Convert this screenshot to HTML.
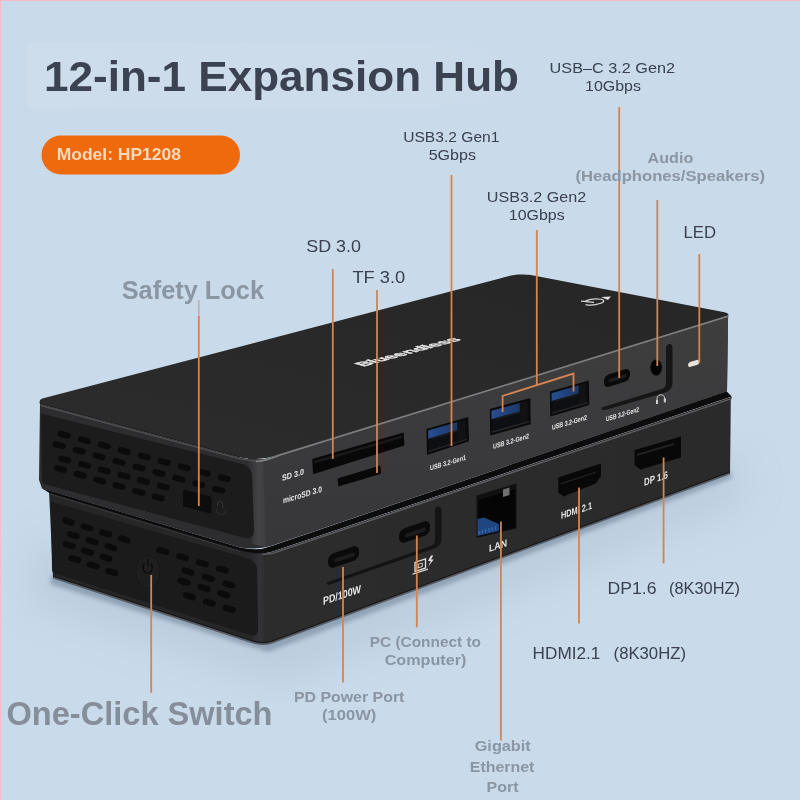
<!DOCTYPE html><html><head><meta charset="utf-8"><style>html,body{margin:0;padding:0;background:#c9daea;overflow:hidden;}svg{display:block;will-change:transform;}text{font-family:"Liberation Sans", sans-serif;}</style></head><body>
<svg width="800" height="800" viewBox="0 0 800 800">
<defs>
<linearGradient id="topg" x1="0" y1="1" x2="1" y2="0"><stop offset="0" stop-color="#2c2c2c"/><stop offset="1" stop-color="#262626"/></linearGradient>
<linearGradient id="ufront" x1="0" y1="0" x2="0" y2="1"><stop offset="0" stop-color="#3e3e3f"/><stop offset="1" stop-color="#37373a"/></linearGradient>
<linearGradient id="lfront" x1="0" y1="0" x2="1" y2="0"><stop offset="0" stop-color="#2c2c2d"/><stop offset="1" stop-color="#2a2a2b"/></linearGradient>
<linearGradient id="ucorner" x1="0" y1="0" x2="1" y2="0"><stop offset="0" stop-color="#2e2e30"/><stop offset="0.6" stop-color="#444446"/><stop offset="1" stop-color="#3d3d3f"/></linearGradient>
<linearGradient id="lcorner" x1="0" y1="0" x2="1" y2="0"><stop offset="0" stop-color="#262628"/><stop offset="0.6" stop-color="#333335"/><stop offset="1" stop-color="#2c2c2d"/></linearGradient>
<filter id="b2"><feGaussianBlur stdDeviation="2"/></filter>
<filter id="b8"><feGaussianBlur stdDeviation="8"/></filter>
<filter id="b20"><feGaussianBlur stdDeviation="20"/></filter>
</defs>
<rect x="0" y="0" width="800" height="800" fill="#c9daea"/>
<linearGradient id="glow" x1="0" y1="0" x2="1" y2="0"><stop offset="0" stop-color="#d2dfed" stop-opacity="0.55"/><stop offset="0.6" stop-color="#d2dfed" stop-opacity="0.35"/><stop offset="1" stop-color="#d2dfed" stop-opacity="0"/></linearGradient>
<rect x="27" y="42.5" width="520" height="66" rx="8" fill="url(#glow)"/>
<polygon points="40,540 268,630 735,450 745,500 280,680 30,600" fill="#9fb1c4" opacity="0.35" filter="url(#b20)"/>
<polygon points="52,574 262,640 730,470 732,478 268,652 50,584" fill="#7d8fa3" opacity="0.7" filter="url(#b2)"/>
<rect x="0" y="0" width="800" height="1" fill="#ffbac4"/><rect x="0" y="0" width="1" height="800" fill="#ffbac4"/>
<text x="44" y="91" font-size="43" fill="#3b4252" font-weight="bold" textLength="475" lengthAdjust="spacingAndGlyphs" >12-in-1 Expansion Hub</text>
<rect x="41.5" y="135.5" width="198.5" height="39" rx="19.5" fill="#ee6a0c"/>
<text x="56.7" y="160" font-size="16.5" fill="#fbd9bd" font-weight="bold" textLength="124.3" lengthAdjust="spacingAndGlyphs" >Model: HP1208</text>
<path d="M 49,491 L 240,549 Q 258,556 272,552.3 L 731.75,397 L 730.5,400 L 730,472.75 L 272,642 Q 262,645.5 250,641 L 53,577 Z" fill="#262627" />
<path d="M 262,553.5 Q 266,553.3 272,552.3 L 731.75,397 L 730.5,400 L 730,472.75 L 272,642 Q 266,643.5 262,643.2 Z" fill="url(#lfront)" />
<polygon points="250.00,549.50 264.00,553.30 266.00,643.00 252.00,640.00" fill="url(#lcorner)" />
<path d="M 51,501.5 L 246,558 Q 256,561 257,568 L 258,629 Q 258,637 250,635 L 54,573 Q 52,572 52,570 Z" fill="#1b1b1c" />
<path d="M 50,494 L 240,551.5" stroke="#3a3a3c" stroke-width="1" fill="none"/>
<path d="M 262,554.3 Q 266,554.3 272,553.6 L 731.5,398.6" stroke="#5e5e60" stroke-width="1.5" fill="none"/>
<path d="M 53,577.5 L 250,641.5 Q 262,646 272,642.5 L 730,473.2" stroke="#4a4e55" stroke-width="2" fill="none" opacity="0.8"/>
<path d="M 53,576 L 250,640 Q 262,644.5 272,641 L 730,471.8" stroke="#161616" stroke-width="1" fill="none"/>
<path d="M 41.5,488 L 240,547.5 Q 258,551.5 270,546.5 L 726.5,391.3 L 731.75,396.5 L 272,551.8 Q 258,555.5 240,550.5 L 49,492.7 Z" fill="#0c0c0c" />
<path d="M 40,404 L 240,457.5 Q 262,463 280,454 L 728.2,315.6 L 728,320 L 727,391.3 L 270,546 Q 258,550 240,547.5 L 42,488.6 L 39,480 Z" fill="#2d2d2f" />
<path d="M 262,460 Q 270,458 280,454 L 728.2,315.6 L 728,320 L 727,391.3 L 270,546 Q 266,547 262,546.8 Z" fill="url(#ufront)" />
<polygon points="248.00,456.00 263.00,460.00 266.00,546.80 252.00,544.00" fill="url(#ucorner)" />
<path d="M 41,413.5 L 240,463.5 Q 251,466 252,474 L 254,530 Q 254,540 245,538 L 44,484 Q 42,483 42,480 Z" fill="#1c1c1d" />
<path d="M 40,404 Q 38.3,400 42.4,398.6 L 497,279.2 C 508,276.3 513,274.4 521,274.4 C 529,274.4 533,275.3 540,276.7 L 724.5,312.3 Q 729.5,313.6 728.2,315.6 L 280,454 Q 262,461.5 240,457.5 Z" fill="url(#topg)" />
<path d="M 41,405.5 L 240,458.8 Q 256,462.5 266,460" stroke="#4e4e50" stroke-width="1.3" fill="none"/>
<path d="M 256,461.5 Q 266,461 280,455 L 728,316.3" stroke="#808082" stroke-width="1.5" fill="none"/>
<path d="M 40,403.5 L 240,457" stroke="#1a1a1a" stroke-width="0.8" fill="none"/>
<rect x="-6.60" y="-3.00" width="13.20" height="6.00" rx="3.00" fill="#0b0b0b" transform="translate(64.20,434.75) rotate(15.22)" />
<rect x="-6.60" y="-3.00" width="13.20" height="6.00" rx="3.00" fill="#0b0b0b" transform="translate(84.21,440.18) rotate(15.22)" />
<rect x="-6.60" y="-3.00" width="13.20" height="6.00" rx="3.00" fill="#0b0b0b" transform="translate(104.23,445.61) rotate(15.22)" />
<rect x="-6.60" y="-3.00" width="13.20" height="6.00" rx="3.00" fill="#0b0b0b" transform="translate(124.24,451.04) rotate(15.22)" />
<rect x="-6.60" y="-3.00" width="13.20" height="6.00" rx="3.00" fill="#0b0b0b" transform="translate(144.25,456.48) rotate(15.22)" />
<rect x="-6.60" y="-3.00" width="13.20" height="6.00" rx="3.00" fill="#0b0b0b" transform="translate(164.26,461.91) rotate(15.22)" />
<rect x="-6.60" y="-3.00" width="13.20" height="6.00" rx="3.00" fill="#0b0b0b" transform="translate(184.28,467.34) rotate(15.22)" />
<rect x="-6.60" y="-3.00" width="13.20" height="6.00" rx="3.00" fill="#0b0b0b" transform="translate(204.29,472.77) rotate(15.22)" />
<rect x="-6.60" y="-3.00" width="13.20" height="6.00" rx="3.00" fill="#0b0b0b" transform="translate(224.30,478.20) rotate(15.22)" />
<rect x="-6.60" y="-3.00" width="13.20" height="6.00" rx="3.00" fill="#0b0b0b" transform="translate(59.25,445.20) rotate(15.22)" />
<rect x="-6.60" y="-3.00" width="13.20" height="6.00" rx="3.00" fill="#0b0b0b" transform="translate(79.19,450.77) rotate(15.22)" />
<rect x="-6.60" y="-3.00" width="13.20" height="6.00" rx="3.00" fill="#0b0b0b" transform="translate(99.12,456.34) rotate(15.22)" />
<rect x="-6.60" y="-3.00" width="13.20" height="6.00" rx="3.00" fill="#0b0b0b" transform="translate(119.06,461.91) rotate(15.22)" />
<rect x="-6.60" y="-3.00" width="13.20" height="6.00" rx="3.00" fill="#0b0b0b" transform="translate(139.00,467.48) rotate(15.22)" />
<rect x="-6.60" y="-3.00" width="13.20" height="6.00" rx="3.00" fill="#0b0b0b" transform="translate(158.94,473.04) rotate(15.22)" />
<rect x="-6.60" y="-3.00" width="13.20" height="6.00" rx="3.00" fill="#0b0b0b" transform="translate(178.88,478.61) rotate(15.22)" />
<rect x="-6.60" y="-3.00" width="13.20" height="6.00" rx="3.00" fill="#0b0b0b" transform="translate(198.81,484.18) rotate(15.22)" />
<rect x="-6.60" y="-3.00" width="13.20" height="6.00" rx="3.00" fill="#0b0b0b" transform="translate(218.75,489.75) rotate(15.22)" />
<rect x="-6.60" y="-3.00" width="13.20" height="6.00" rx="3.00" fill="#0b0b0b" transform="translate(64.75,459.50) rotate(15.22)" />
<rect x="-6.60" y="-3.00" width="13.20" height="6.00" rx="3.00" fill="#0b0b0b" transform="translate(84.44,464.90) rotate(15.22)" />
<rect x="-6.60" y="-3.00" width="13.20" height="6.00" rx="3.00" fill="#0b0b0b" transform="translate(104.13,470.30) rotate(15.22)" />
<rect x="-6.60" y="-3.00" width="13.20" height="6.00" rx="3.00" fill="#0b0b0b" transform="translate(123.82,475.70) rotate(15.22)" />
<rect x="-6.60" y="-3.00" width="13.20" height="6.00" rx="3.00" fill="#0b0b0b" transform="translate(143.51,481.10) rotate(15.22)" />
<rect x="-6.60" y="-3.00" width="13.20" height="6.00" rx="3.00" fill="#0b0b0b" transform="translate(163.20,486.50) rotate(15.22)" />
<rect x="-6.60" y="-3.00" width="13.20" height="6.00" rx="3.00" fill="#0b0b0b" transform="translate(60.60,469.00) rotate(15.22)" />
<rect x="-6.60" y="-3.00" width="13.20" height="6.00" rx="3.00" fill="#0b0b0b" transform="translate(80.14,474.70) rotate(15.22)" />
<rect x="-6.60" y="-3.00" width="13.20" height="6.00" rx="3.00" fill="#0b0b0b" transform="translate(99.68,480.40) rotate(15.22)" />
<rect x="-6.60" y="-3.00" width="13.20" height="6.00" rx="3.00" fill="#0b0b0b" transform="translate(119.22,486.10) rotate(15.22)" />
<rect x="-6.60" y="-3.00" width="13.20" height="6.00" rx="3.00" fill="#0b0b0b" transform="translate(138.76,491.80) rotate(15.22)" />
<rect x="-6.60" y="-3.00" width="13.20" height="6.00" rx="3.00" fill="#0b0b0b" transform="translate(158.30,497.50) rotate(15.22)" />
<rect x="-14.25" y="-8.50" width="28.50" height="17.00" rx="2.00" fill="#0c0c0c" transform="translate(197.30,501.50) skewY(14.57)" />
<path d="M 217.5,506 v-1.5 a 2.6,3.2 0 0 1 5.2,0 v 4" stroke="#303030" stroke-width="1.1" fill="none"/>
<path d="M 216.5,509 q 0,5 4.5,5.5 q 4.5,0 4.5,-4" stroke="#2c2c2c" stroke-width="1.1" fill="none"/>
<rect x="-6.60" y="-3.00" width="13.20" height="6.00" rx="3.00" fill="#0b0b0b" transform="translate(68.40,521.50) rotate(17.22)" />
<rect x="-6.60" y="-3.00" width="13.20" height="6.00" rx="3.00" fill="#0b0b0b" transform="translate(87.00,527.43) rotate(17.22)" />
<rect x="-6.60" y="-3.00" width="13.20" height="6.00" rx="3.00" fill="#0b0b0b" transform="translate(105.60,533.37) rotate(17.22)" />
<rect x="-6.60" y="-3.00" width="13.20" height="6.00" rx="3.00" fill="#0b0b0b" transform="translate(124.20,539.30) rotate(17.22)" />
<rect x="-6.60" y="-3.00" width="13.20" height="6.00" rx="3.00" fill="#0b0b0b" transform="translate(73.30,535.20) rotate(17.22)" />
<rect x="-6.60" y="-3.00" width="13.20" height="6.00" rx="3.00" fill="#0b0b0b" transform="translate(92.15,541.25) rotate(17.22)" />
<rect x="-6.60" y="-3.00" width="13.20" height="6.00" rx="3.00" fill="#0b0b0b" transform="translate(111.00,547.30) rotate(17.22)" />
<rect x="-6.60" y="-3.00" width="13.20" height="6.00" rx="3.00" fill="#0b0b0b" transform="translate(69.20,545.40) rotate(17.22)" />
<rect x="-6.60" y="-3.00" width="13.20" height="6.00" rx="3.00" fill="#0b0b0b" transform="translate(87.60,551.58) rotate(17.22)" />
<rect x="-6.60" y="-3.00" width="13.20" height="6.00" rx="3.00" fill="#0b0b0b" transform="translate(106.00,557.75) rotate(17.22)" />
<rect x="-6.60" y="-3.00" width="13.20" height="6.00" rx="3.00" fill="#0b0b0b" transform="translate(74.70,559.10) rotate(17.22)" />
<rect x="-6.60" y="-3.00" width="13.20" height="6.00" rx="3.00" fill="#0b0b0b" transform="translate(93.25,565.55) rotate(17.22)" />
<rect x="-6.60" y="-3.00" width="13.20" height="6.00" rx="3.00" fill="#0b0b0b" transform="translate(111.80,572.00) rotate(17.22)" />
<rect x="-6.60" y="-3.00" width="13.20" height="6.00" rx="3.00" fill="#0b0b0b" transform="translate(162.70,550.90) rotate(17.22)" />
<rect x="-6.60" y="-3.00" width="13.20" height="6.00" rx="3.00" fill="#0b0b0b" transform="translate(182.60,557.13) rotate(17.22)" />
<rect x="-6.60" y="-3.00" width="13.20" height="6.00" rx="3.00" fill="#0b0b0b" transform="translate(202.50,563.37) rotate(17.22)" />
<rect x="-6.60" y="-3.00" width="13.20" height="6.00" rx="3.00" fill="#0b0b0b" transform="translate(222.40,569.60) rotate(17.22)" />
<rect x="-6.60" y="-3.00" width="13.20" height="6.00" rx="3.00" fill="#0b0b0b" transform="translate(188.00,571.50) rotate(17.22)" />
<rect x="-6.60" y="-3.00" width="13.20" height="6.00" rx="3.00" fill="#0b0b0b" transform="translate(208.35,577.95) rotate(17.22)" />
<rect x="-6.60" y="-3.00" width="13.20" height="6.00" rx="3.00" fill="#0b0b0b" transform="translate(228.70,584.40) rotate(17.22)" />
<rect x="-6.60" y="-3.00" width="13.20" height="6.00" rx="3.00" fill="#0b0b0b" transform="translate(183.90,581.70) rotate(17.22)" />
<rect x="-6.60" y="-3.00" width="13.20" height="6.00" rx="3.00" fill="#0b0b0b" transform="translate(203.82,588.00) rotate(17.22)" />
<rect x="-6.60" y="-3.00" width="13.20" height="6.00" rx="3.00" fill="#0b0b0b" transform="translate(223.75,594.30) rotate(17.22)" />
<rect x="-6.60" y="-3.00" width="13.20" height="6.00" rx="3.00" fill="#0b0b0b" transform="translate(189.40,596.25) rotate(17.22)" />
<rect x="-6.60" y="-3.00" width="13.20" height="6.00" rx="3.00" fill="#0b0b0b" transform="translate(209.35,602.58) rotate(17.22)" />
<rect x="-6.60" y="-3.00" width="13.20" height="6.00" rx="3.00" fill="#0b0b0b" transform="translate(229.30,608.90) rotate(17.22)" />
<ellipse cx="148" cy="572" rx="12" ry="16.5" fill="#1e1e1f" stroke="#171718" stroke-width="1"/>
<path d="M 144.6,563.5 a 4.6,5.6 0 1 0 6.4,0.3" stroke="#0a0a0a" stroke-width="1.2" fill="none"/><line x1="147.8" y1="559" x2="147.8" y2="567" stroke="#0a0a0a" stroke-width="1.2"/>
<polygon points="312.25,459.10 403.60,432.50 404.40,445.40 313.00,474.25" fill="#080808" />
<polygon points="314.00,461.00 402.00,435.50 402.00,438.00 314.00,463.50" fill="#1a1a1a" />
<polygon points="337.50,478.40 380.50,465.50 381.00,473.70 338.40,486.60" fill="#080808" />
<linearGradient id="usbblue" x1="0" y1="0" x2="1" y2="0"><stop offset="0" stop-color="#274f92"/><stop offset="1" stop-color="#1b3768"/></linearGradient>
<polygon points="426.40,428.90 468.20,417.00 469.00,441.25 427.00,455.00" fill="#0a0a0b" />
<polygon points="428.54,430.39 466.17,419.54 466.84,439.99 429.05,452.23" fill="#0e0f12" />
<polygon points="428.12,430.51 457.39,422.07 457.63,429.99 428.32,438.83" fill="url(#usbblue)" />
<polygon points="457.39,422.07 464.92,419.90 465.52,438.69 457.97,441.12" fill="#121214" />
<polygon points="431.67,437.82 457.63,429.99 457.68,431.47 431.70,439.38" fill="#1b1c20" />
<polygon points="428.59,450.81 467.21,438.39 467.26,439.85 428.63,452.37" fill="#26262a" />
<polygon points="489.80,409.00 530.30,398.00 530.75,424.25 490.25,435.50" fill="#0a0a0b" />
<polygon points="491.86,410.57 528.31,400.65 528.69,422.71 492.24,432.82" fill="#0e0f12" />
<polygon points="491.46,410.68 519.81,402.97 519.95,411.39 491.60,419.16" fill="url(#usbblue)" />
<polygon points="519.81,402.97 527.10,400.98 527.44,421.21 520.15,423.23" fill="#121214" />
<polygon points="494.84,418.27 519.95,411.39 519.98,412.96 494.87,419.86" fill="#1b1c20" />
<polygon points="491.81,431.34 529.07,421.02 529.09,422.60 491.83,432.93" fill="#26262a" />
<polygon points="549.90,391.60 588.80,380.40 589.25,405.00 550.30,416.40" fill="#0a0a0b" />
<polygon points="551.88,393.02 586.89,382.93 587.27,403.60 552.22,413.85" fill="#0e0f12" />
<polygon points="551.49,393.14 578.72,385.28 578.86,393.17 551.62,401.07" fill="url(#usbblue)" />
<polygon points="578.72,385.28 585.72,383.27 586.07,402.22 579.06,404.27" fill="#121214" />
<polygon points="554.73,400.17 578.86,393.17 578.89,394.65 554.75,401.65" fill="#1b1c20" />
<polygon points="551.80,412.47 587.63,402.01 587.66,403.49 551.83,413.96" fill="#26262a" />
<path d="M 666,347.5 Q 667,344 669.5,344 Q 672.5,344 672.5,348 L 672.5,383 Q 672.5,390.5 664,393 L 605,410 Q 601,410.5 601.5,407.5 L 662,389 Q 666,387.5 666,383 Z" fill="#161617"/>
<rect x="-13.00" y="-6.25" width="26.00" height="12.50" rx="5.00" fill="#0a0a0a" transform="translate(617.00,378.00) skewY(-16.70)" />
<rect x="-9.00" y="-1.70" width="18.00" height="3.40" rx="1.70" fill="#1e1e20" transform="translate(617.50,378.30) skewY(-16.70)" />
<ellipse cx="656.2" cy="367.6" rx="6.2" ry="8.4" fill="#222"/>
<ellipse cx="656.2" cy="367.6" rx="5.4" ry="7.6" fill="#040404"/>
<rect x="-5.70" y="-2.50" width="11.40" height="5.00" rx="2.50" fill="#e8e4d8" transform="translate(693.70,363.40) skewY(-16.70)" />
<path d="M 657,403 v-3 a 3.9,4.6 0 0 1 7.8,-1.4 v3" stroke="#d0d0d0" stroke-width="1" fill="none"/><rect x="656" y="400" width="2" height="4" fill="#d0d0d0"/><rect x="663.8" y="398.4" width="2" height="4" fill="#d0d0d0"/>
<path d="M 435,510 Q 435.5,506.5 438,506.5 Q 441.5,506.5 441.5,510.5 L 441.5,539 Q 441.5,546 434,548.5 L 330,584.5 Q 326,585.5 326.5,582.5 L 432,545.5 Q 435,544 435,540 Z" fill="#141415"/>
<rect x="-15.50" y="-7.25" width="31.00" height="14.50" rx="6.00" fill="#0a0a0a" transform="translate(343.50,557.00) skewY(-18.26)" />
<rect x="-10.50" y="-2.00" width="21.00" height="4.00" rx="2.00" fill="#1c1c1e" transform="translate(344.50,557.50) skewY(-18.26)" />
<rect x="-15.50" y="-7.25" width="31.00" height="14.50" rx="6.00" fill="#0a0a0a" transform="translate(414.50,532.00) skewY(-18.26)" />
<rect x="-10.50" y="-2.00" width="21.00" height="4.00" rx="2.00" fill="#1c1c1e" transform="translate(415.50,532.50) skewY(-18.26)" />
<polygon points="476.50,495.50 516.50,483.50 516.50,528.50 476.50,538.00" fill="#101011" />
<polygon points="478.50,500.01 515.30,489.25 515.30,527.44 478.50,536.25" fill="#050506" />
<polygon points="477.50,519.00 484.00,517.50 499.00,524.00 499.00,531.00 477.50,536.00" fill="#1f4680" />
<line x1="479.0" y1="534.5" x2="479.0" y2="531.0" stroke="#3a6bb5" stroke-width="1.2"/>
<line x1="482.3" y1="533.5" x2="482.3" y2="530.0" stroke="#3a6bb5" stroke-width="1.2"/>
<line x1="485.6" y1="532.6" x2="485.6" y2="529.1" stroke="#3a6bb5" stroke-width="1.2"/>
<line x1="488.9" y1="531.6" x2="488.9" y2="528.1" stroke="#3a6bb5" stroke-width="1.2"/>
<line x1="492.2" y1="530.7" x2="492.2" y2="527.2" stroke="#3a6bb5" stroke-width="1.2"/>
<line x1="495.5" y1="529.8" x2="495.5" y2="526.2" stroke="#3a6bb5" stroke-width="1.2"/>
<polygon points="503.00,489.50 509.50,487.50 509.50,495.00 503.00,497.00" fill="#707070" />
<polygon points="558.25,477.50 601.00,463.60 601.00,476.00 595.75,483.50 563.50,496.60 558.25,492.50" fill="#080808" />
<polygon points="561.00,483.00 596.00,471.50 596.00,473.00 561.00,484.50" fill="#202022" />
<polygon points="634.50,450.00 681.00,436.50 681.00,457.50 640.50,469.50 634.50,465.00" fill="#080808" />
<polygon points="637.00,454.00 674.00,443.00 674.00,445.00 637.00,456.00" fill="#222224" />
<text x="0" y="0" font-size="8.5" fill="#e6e6e6" font-weight="bold" textLength="22" lengthAdjust="spacingAndGlyphs" transform="translate(282.00,481.00) skewY(-16.70)" >SD 3.0</text>
<text x="0" y="0" font-size="8.5" fill="#e6e6e6" font-weight="bold" textLength="39" lengthAdjust="spacingAndGlyphs" transform="translate(283.00,503.50) skewY(-16.70)" >microSD 3.0</text>
<text x="0" y="0" font-size="7" fill="#e6e6e6" font-weight="bold" textLength="36" lengthAdjust="spacingAndGlyphs" transform="translate(430.00,470.50) skewY(-16.70)" >USB 3.2-Gen1</text>
<text x="0" y="0" font-size="7" fill="#e6e6e6" font-weight="bold" textLength="36" lengthAdjust="spacingAndGlyphs" transform="translate(493.00,449.00) skewY(-16.70)" >USB 3.2-Gen2</text>
<text x="0" y="0" font-size="7" fill="#e6e6e6" font-weight="bold" textLength="35" lengthAdjust="spacingAndGlyphs" transform="translate(552.00,430.00) skewY(-16.70)" >USB 3.2-Gen2</text>
<text x="0" y="0" font-size="7" fill="#e6e6e6" font-weight="bold" textLength="33" lengthAdjust="spacingAndGlyphs" transform="translate(606.00,421.50) skewY(-16.70)" >USB 3.2-Gen2</text>
<text x="0" y="0" font-size="11" fill="#e6e6e6" font-weight="bold" textLength="38" lengthAdjust="spacingAndGlyphs" transform="translate(323.00,605.00) skewY(-18.26)" >PD/100W</text>
<text x="0" y="0" font-size="10" fill="#e6e6e6" font-weight="bold" textLength="18" lengthAdjust="spacingAndGlyphs" transform="translate(489.00,552.00) skewY(-18.26)" >LAN</text>
<text x="0" y="0" font-size="10" fill="#e6e6e6" font-weight="bold" textLength="31" lengthAdjust="spacingAndGlyphs" transform="translate(561.00,519.00) skewY(-18.26)" >HDMI 2.1</text>
<text x="0" y="0" font-size="10.5" fill="#e6e6e6" font-weight="bold" textLength="24" lengthAdjust="spacingAndGlyphs" transform="translate(644.00,486.00) skewY(-18.26)" >DP 1.6</text>
<g transform="translate(413,573) skewY(-18)" stroke="#e2e2e2" stroke-width="1.3" fill="none"><rect x="2" y="-10" width="10.5" height="9"/><rect x="5.2" y="-7" width="4" height="3.5" stroke-width="0.9"/><path d="M -0.5,1 h 15.5"/></g>
<path d="M 431,556 l -3,5.5 h 2.8 l -2.6,5.5 l 5.5,-7 h -2.8 l 2.4,-4 z" fill="#e2e2e2" transform="translate(0,-0.5)"/>
<text x="0" y="0" font-size="10" font-weight="bold" fill="#e8e8e8" stroke="#e8e8e8" stroke-width="0.45" transform="matrix(1.68,-0.455,1.5,0.38,363.5,366.5)">Blueendless</text>
<path d="M 585.5,300.9 A 10.5,2.8 -6 1 1 585.6,304.6" stroke="#d4d4d4" stroke-width="1.2" fill="none"/>
<line x1="581" y1="301.2" x2="594" y2="302.4" stroke="#d4d4d4" stroke-width="1.2"/>
<polygon points="601,297 611,296.5 608,300" fill="#e0e0e0"/>
<line x1="198.8" y1="300" x2="198.8" y2="318" stroke="#b9a8a0" stroke-width="1.8" opacity="0.7"/>
<line x1="198.8" y1="316" x2="198.8" y2="506" stroke="#d4844f" stroke-width="1.8"/>
<line x1="332.8" y1="269" x2="332.8" y2="459" stroke="#d4844f" stroke-width="1.8"/>
<line x1="377" y1="290" x2="377" y2="473" stroke="#d4844f" stroke-width="1.8"/>
<line x1="451.5" y1="175" x2="451.5" y2="446" stroke="#d4844f" stroke-width="1.8"/>
<line x1="536.8" y1="230" x2="536.8" y2="385" stroke="#d4844f" stroke-width="1.8"/>
<polyline points="502.6,412 502.6,396 573.5,373.6 573.5,391.6" stroke="#d4844f" stroke-width="1.8" fill="none"/>
<line x1="619.2" y1="107" x2="619.2" y2="378" stroke="#d4844f" stroke-width="1.8"/>
<line x1="657.3" y1="200" x2="657.3" y2="366" stroke="#d4844f" stroke-width="1.8"/>
<line x1="699.3" y1="254" x2="699.3" y2="363" stroke="#d4844f" stroke-width="1.8"/>
<line x1="151.2" y1="575" x2="151.2" y2="692.7" stroke="#d4844f" stroke-width="1.8"/>
<line x1="343" y1="567" x2="343" y2="682.4" stroke="#d4844f" stroke-width="1.8"/>
<line x1="416.8" y1="535.5" x2="416.8" y2="627.3" stroke="#d4844f" stroke-width="1.8"/>
<line x1="500.9" y1="521.4" x2="500.9" y2="740.6" stroke="#d4844f" stroke-width="1.8"/>
<line x1="579" y1="487.5" x2="579" y2="623.4" stroke="#d4844f" stroke-width="1.8"/>
<line x1="663.6" y1="457.5" x2="663.6" y2="563.4" stroke="#d4844f" stroke-width="1.8"/>
<text x="549.6" y="73.4" font-size="15" fill="#3a4150" font-weight="normal" textLength="125.4" lengthAdjust="spacingAndGlyphs" >USB–C 3.2 Gen2</text>
<text x="585" y="91" font-size="15" fill="#3a4150" font-weight="normal" textLength="56" lengthAdjust="spacingAndGlyphs" >10Gbps</text>
<text x="403.2" y="142.2" font-size="15" fill="#3a4150" font-weight="normal" textLength="96.3" lengthAdjust="spacingAndGlyphs" >USB3.2 Gen1</text>
<text x="428.7" y="160.2" font-size="15" fill="#3a4150" font-weight="normal" textLength="47.3" lengthAdjust="spacingAndGlyphs" >5Gbps</text>
<text x="486.75" y="202" font-size="15" fill="#3a4150" font-weight="normal" textLength="99.5" lengthAdjust="spacingAndGlyphs" >USB3.2 Gen2</text>
<text x="508.8" y="220" font-size="15" fill="#3a4150" font-weight="normal" textLength="55.9" lengthAdjust="spacingAndGlyphs" >10Gbps</text>
<text x="647.5" y="162.5" font-size="14.5" fill="#8a96a3" font-weight="bold" textLength="45.75" lengthAdjust="spacingAndGlyphs" >Audio</text>
<text x="575.5" y="181.25" font-size="14.5" fill="#8a96a3" font-weight="bold" textLength="189.5" lengthAdjust="spacingAndGlyphs" >(Headphones/Speakers)</text>
<text x="683.5" y="238.2" font-size="17" fill="#3a4150" font-weight="normal" textLength="32.5" lengthAdjust="spacingAndGlyphs" >LED</text>
<text x="306.25" y="251.7" font-size="17" fill="#3a4150" font-weight="normal" textLength="54.75" lengthAdjust="spacingAndGlyphs" >SD 3.0</text>
<text x="352.4" y="283.2" font-size="17" fill="#3a4150" font-weight="normal" textLength="52.85" lengthAdjust="spacingAndGlyphs" >TF 3.0</text>
<text x="121.7" y="299" font-size="25" fill="#8a96a3" font-weight="bold" textLength="142.3" lengthAdjust="spacingAndGlyphs" >Safety Lock</text>
<text x="6.5" y="724.6" font-size="33" fill="#848f9b" font-weight="bold" textLength="266" lengthAdjust="spacingAndGlyphs" >One-Click Switch</text>
<text x="293.9" y="701.6" font-size="14" fill="#8a96a3" font-weight="bold" textLength="110.5" lengthAdjust="spacingAndGlyphs" >PD Power Port</text>
<text x="322" y="719.8" font-size="14" fill="#8a96a3" font-weight="bold" textLength="54.3" lengthAdjust="spacingAndGlyphs" >(100W)</text>
<text x="369.75" y="646.5" font-size="14.3" fill="#8a96a3" font-weight="bold" textLength="111.25" lengthAdjust="spacingAndGlyphs" >PC (Connect to</text>
<text x="384.7" y="665.2" font-size="14.3" fill="#8a96a3" font-weight="bold" textLength="81.7" lengthAdjust="spacingAndGlyphs" >Computer)</text>
<text x="474.75" y="751.25" font-size="14" fill="#8a96a3" font-weight="bold" textLength="55.9" lengthAdjust="spacingAndGlyphs" >Gigabit</text>
<text x="469.75" y="771.5" font-size="14" fill="#8a96a3" font-weight="bold" textLength="64.65" lengthAdjust="spacingAndGlyphs" >Ethernet</text>
<text x="486.5" y="791.5" font-size="14" fill="#8a96a3" font-weight="bold" textLength="32" lengthAdjust="spacingAndGlyphs" >Port</text>
<text x="607.6" y="594" font-size="16.8" fill="#3a4150" font-weight="normal" textLength="48.9" lengthAdjust="spacingAndGlyphs" >DP1.6</text>
<text x="669" y="594" font-size="16.8" fill="#3a4150" font-weight="normal" textLength="71" lengthAdjust="spacingAndGlyphs" >(8K30HZ)</text>
<text x="532.6" y="659.4" font-size="16.8" fill="#3a4150" font-weight="normal" textLength="67.8" lengthAdjust="spacingAndGlyphs" >HDMI2.1</text>
<text x="613.6" y="659.4" font-size="16.8" fill="#3a4150" font-weight="normal" textLength="72.4" lengthAdjust="spacingAndGlyphs" >(8K30HZ)</text>
</svg></body></html>
